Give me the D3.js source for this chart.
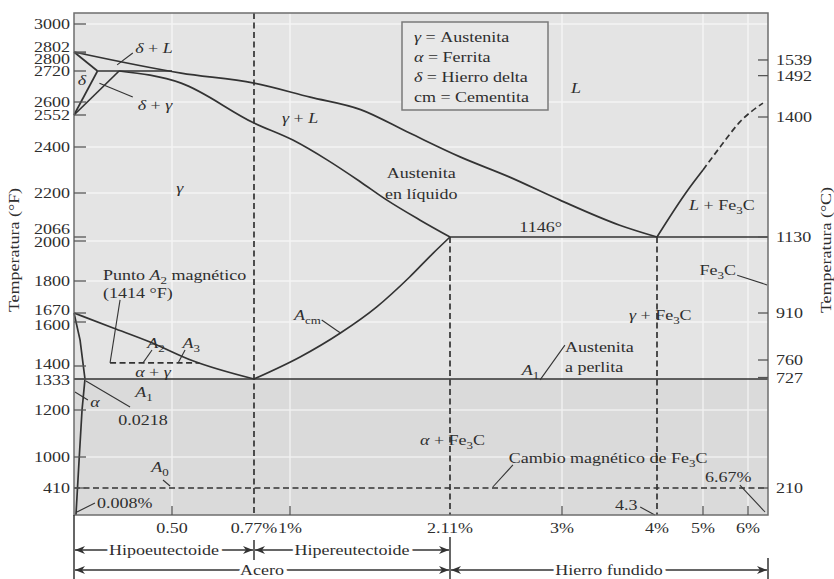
<!DOCTYPE html>
<html>
<head>
<meta charset="utf-8">
<script src="https://cdn.jsdelivr.net/npm/d3@7"></script>
<style>
  body { margin: 0; background: #fff; }
  text { font-family: "Liberation Serif", "Times New Roman", serif; fill: #2e2e2e; }
</style>
</head>
<body>
<svg id="chart" width="834" height="579"></svg>
<script>
// composition axis (% C)
const xTickVals = [0.5, 0.77, 1, 2.11, 3, 4.3, 5, 6];
const xTickLabels = ["0.50", "0.77%", "1%", "2.11%", "3%", "4%", "5%", "6%"];
const xMinorTicks = [0.5, 1, 3, 5, 6];

// temperature ticks
const fTicks = [3000, 2802, 2800, 2720, 2600, 2552, 2400, 2200, 2066, 2000, 1800, 1670, 1600, 1400, 1333, 1200, 1000, 410];
const cTicks = [1539, 1492, 1400, 1130, 910, 760, 727, 210];
const gridF = [3000, 2600, 2400, 2200, 2000, 1800, 1600, 1200, 1000];

// phase boundaries, [% C, °F]
const liquidus = [[0, 2802], [0.53, 2712], [0.77, 2673], [1.14, 2619], [1.49, 2572], [1.83, 2466],
  [2.19, 2357], [2.58, 2270], [2.98, 2179], [3.79, 2102], [4.3, 2066]];
const liquidusRight = [[4.3, 2066], [4.77, 2213], [5, 2300]];
const liquidusDashed = [[5, 2300], [5.38, 2400], [5.82, 2519], [6.5, 2596]];
const solidus = [[0.23, 2720], [0.53, 2673], [0.77, 2514], [1.02, 2433], [1.26, 2343],
  [1.49, 2248], [1.67, 2179], [1.9, 2118], [2.11, 2066]];
const deltaSolidus = [[0, 2802], [0.12, 2720]];
const peritectic = [[0.12, 2720], [0.5, 2720]];
const deltaSolvus = [[0.12, 2720], [0, 2552]];
const gammaDelta = [[0, 2552], [0.23, 2720]];
const a3 = [[0, 1670], [0.2, 1573], [0.388, 1509], [0.566, 1425], [0.77, 1333]];
const alphaLine = [[0, 1670], [0.031, 1518], [0.056, 1333], [0.041, 1200], [0.026, 943], [0.01, 32]];
const acm = [[0.77, 1333], [1.07, 1441], [1.35, 1550], [1.6, 1694], [1.83, 1820], [1.99, 1937], [2.11, 2066]];
const eutectic = [[2.11, 2066], [6.67, 2066]];
const eutectoid = [[0, 1333], [6.67, 1333]];
const a2 = [[0.184, 1414], [0.59, 1414]];
const fe3cMagnetic = [[0, 410], [6.67, 410]];
const dashedVerticals = [[0.77, 3080], [2.11, 2066], [4.3, 2066]];

const legendItems = ["*γ* = Austenita", "*α* = Ferrita", "*δ* = Hierro delta", "cm = Cementita"];

const annotations = [
  {t: "*δ* + *L*", at: [0.408, 2830]},
  {t: "*δ* + *γ*", at: [0.413, 2588]},
  {t: "*δ*", at: [0.041, 2685]},
  {t: "*γ*", at: [0.526, 2222]},
  {t: "*γ* + *L*", at: [1.07, 2538]},
  {t: "Austenita", at: [1.91, 2287]},
  {t: "en líquido", at: [1.91, 2196]},
  {t: "*L*", at: [3.19, 2654]},
  {t: "1146°", at: [2.83, 2096]},
  {t: "*L* + Fe{3}C", at: [5.42, 2164]},
  {t: "Fe{3}C", at: [5.33, 1855]},
  {t: "*γ* + Fe{3}C", at: [4.35, 1654]},
  {t: "Austenita", at: [3.04, 1486], start: true},
  {t: "a perlita", at: [3.04, 1396], start: true},
  {t: "*A*{1}", at: [2.75, 1379]},
  {t: "*A*{cm}", at: [1.12, 1654]},
  {t: "Punto *A*{2} magnético", at: [0.148, 1830], start: true},
  {t: "(1414 °F)", at: [0.148, 1751], start: true},
  {t: "*A*{2}", at: [0.418, 1505]},
  {t: "*A*{3}", at: [0.563, 1505]},
  {t: "*α* + *γ*", at: [0.403, 1369]},
  {t: "*α*", at: [0.107, 1234]},
  {t: "*A*{1}", at: [0.357, 1277]},
  {t: "0.0218", at: [0.352, 1157]},
  {t: "*A*{0}", at: [0.439, 810]},
  {t: "0.008%", at: [0.117, 200], start: true},
  {t: "*α* + Fe{3}C", at: [2.13, 1072]},
  {t: "Cambio magnético de Fe{3}C", at: [3.63, 990]},
  {t: "6.67%", at: [5.56, 620]},
  {t: "4.3", at: [3.88, 172]}
];

const leaders = [
  [[0.30, 2800], [0.22, 2747]],
  [[0.30, 2619], [0.13, 2673]],
  [[0.235, 1723], [0.184, 1414]],
  [[0.398, 1473], [0.352, 1414]],
  [[0.543, 1473], [0.52, 1414]],
  [[0.005, 1277], [0.071, 1243]],
  [[0.061, 1324], [0.286, 1213]],
  [[0.454, 562], [0.49, 448]],
  [[0.015, 74], [0.107, 200]],
  [[1.22, 1615], [1.35, 1550]],
  [[2.826, 1329], [3.04, 1495]],
  [[5.76, 1829], [6.64, 1784]],
  [[2.61, 848], [2.45, 429]],
  [[5.82, 467], [6.57, 74]],
  [[4.07, 144], [4.27, 32]]
];

const spans = [
  {from: 0, to: 0.77, row: 0, label: "Hipoeutectoide"},
  {from: 0.77, to: 2.11, row: 0, label: "Hipereutectoide"},
  {from: 0, to: 2.11, row: 1, label: "Acero"},
  {from: 2.11, to: 6.67, row: 1, label: "Hierro fundido"}
];

// labels that are pushed apart in the original where ticks crowd
const fLabelNudge = {2802: -5, 2800: 6, 2066: -8, 2000: 1, 1670: -3, 1600: 3, 1400: -2, 1333: 1};
const cNudge = {1539: 8, 1492: 4, 1400: 2, 760: -6};

const SX = 1.2, FS = 15, INK = "#333";
const svg = d3.select("#chart");

// the original axes are not uniform, so both scales are piecewise
const x = d3.scaleLinear()
  .domain([0, 0.5, 0.77, 1, 2.11, 3, 4.3, 5, 6, 6.67])
  .range([74, 172, 254, 290, 450, 562, 657, 703, 748, 768]);
const y = d3.scaleLinear()
  .domain([32, 410, 1000, 1200, 1333, 1400, 1600, 1670, 1800, 2000, 2066, 2200, 2400, 2552, 2600, 2720, 2800, 2802, 3000, 3080])
  .range([515, 488, 457, 410, 379, 366, 322, 313, 281, 241, 237, 193, 147, 115, 102, 71, 53, 52, 24, 13]);
const cToF = c => c * 9 / 5 + 32;

const x0 = x(0), x1 = x(6.67), yTop = y(3080), yBot = y(32);

// markup: *italic*, {subscript}
function rich(t, str) {
  const parts = str.split(/(\*[^*]+\*|\{[^}]+\})/).filter(s => s.length);
  let down = false;
  parts.forEach(p => {
    const ts = t.append("tspan");
    if (p[0] === "{") {
      ts.text(p.slice(1, -1)).attr("font-size", FS * 0.72).attr("dy", 4);
      down = true;
      return;
    }
    if (p[0] === "*") ts.text(p.slice(1, -1)).attr("font-style", "italic");
    else ts.text(p);
    if (down) { ts.attr("dy", -4); down = false; }
  });
  return t;
}

function label(g, str, px, py, anchor, rot) {
  const t = g.append("text")
    .attr("font-size", FS)
    .attr("text-anchor", anchor || "middle")
    .attr("transform", `translate(${px},${py})${rot ? " rotate(" + rot + ")" : ""} scale(${SX},1)`);
  return rich(t, str);
}

// plot background
svg.append("rect").attr("x", x0).attr("y", yTop).attr("width", x1 - x0).attr("height", yBot - yTop)
  .attr("fill", "#e4e4e4");
svg.append("rect").attr("x", x0).attr("y", y(1333)).attr("width", x1 - x0).attr("height", yBot - y(1333))
  .attr("fill", "#dadada");

// faint white grid
const grid = svg.append("g").attr("stroke", "#fff").attr("stroke-width", 1.5).attr("opacity", 0.6);
grid.selectAll("line.gx").data(xMinorTicks).enter().append("line")
  .attr("x1", d => x(d)).attr("x2", d => x(d)).attr("y1", yTop).attr("y2", yBot);
grid.selectAll("line.gy").data(gridF).enter().append("line")
  .attr("x1", x0).attr("x2", x1).attr("y1", d => y(d)).attr("y2", d => y(d));

const line = d3.line().x(d => x(d[0])).y(d => y(d[1]));
const curve = d3.line().x(d => x(d[0])).y(d => y(d[1])).curve(d3.curveMonotoneX);

const marks = svg.append("g").attr("fill", "none").attr("stroke", INK).attr("stroke-width", 1.7);

// dashed lines
[fe3cMagnetic, a2].forEach(p => marks.append("path").attr("d", line(p)).attr("stroke-dasharray", "6,3.5"));
marks.selectAll("line.dv").data(dashedVerticals).enter().append("line")
  .attr("x1", d => x(d[0])).attr("x2", d => x(d[0]))
  .attr("y1", d => y(d[1])).attr("y2", yBot)
  .attr("stroke-dasharray", "6,3.5");
marks.append("path").attr("d", curve(liquidusDashed)).attr("stroke-dasharray", "6,3.5");

// solid boundaries
[liquidus, solidus, a3, acm, liquidusRight].forEach(p => marks.append("path").attr("d", curve(p)));
[deltaSolidus, peritectic, deltaSolvus, gammaDelta, eutectic, eutectoid, alphaLine]
  .forEach(p => marks.append("path").attr("d", line(p)));

// leader lines
svg.append("g").attr("stroke", INK).attr("stroke-width", 1.1)
  .selectAll("path").data(leaders).enter().append("path").attr("d", d => line(d));

// frame
svg.append("rect").attr("x", x0).attr("y", yTop).attr("width", x1 - x0).attr("height", yBot - yTop)
  .attr("fill", "none").attr("stroke", "#6e6e6e").attr("stroke-width", 1.5);

// inner ticks: left (°F), right (°C), bottom
const ticks = svg.append("g").attr("stroke", "#555").attr("stroke-width", 1.3);
ticks.selectAll("line.tf").data(fTicks).enter().append("line")
  .attr("x1", x0).attr("x2", x0 + 12).attr("y1", d => y(d)).attr("y2", d => y(d));
ticks.selectAll("line.tc").data(cTicks).enter().append("line")
  .attr("x1", x1 - 10).attr("x2", x1)
  .attr("y1", d => y(cToF(d)) + (cNudge[d] || 0)).attr("y2", d => y(cToF(d)) + (cNudge[d] || 0));
ticks.selectAll("line.tx").data(xMinorTicks).enter().append("line")
  .attr("x1", d => x(d)).attr("x2", d => x(d)).attr("y1", yBot).attr("y2", yBot - 9);

const txt = svg.append("g");
fTicks.forEach(d => label(txt, String(d), x0 - 4, y(d) + (fLabelNudge[d] || 0) + 5, "end"));
cTicks.forEach(d => label(txt, String(d), x1 + 8, y(cToF(d)) + (cNudge[d] || 0) + 5, "start"));
xTickVals.forEach((d, i) => label(txt, xTickLabels[i], x(d), yBot + 18, "middle"));

// axis titles
label(txt, "Temperatura (°F)", 19, 250, "middle", -90);
label(txt, "Temperatura (°C)", 831, 250, "middle", -90);

// region labels and notes
annotations.forEach(a => label(txt, a.t, x(a.at[0]), y(a.at[1]) + 5, a.start ? "start" : "middle"));

// legend box
const lg = svg.append("g");
lg.append("rect").attr("x", 402).attr("y", 22).attr("width", 146).attr("height", 88)
  .attr("fill", "#e8e8e8").attr("stroke", "#7a7a7a").attr("stroke-width", 1.5);
legendItems.forEach((s, i) => label(lg, s, 414, 42 + i * 20, "start"));

// steel / cast iron ranges below the axis
const defs = svg.append("defs");
defs.append("marker").attr("id", "arr").attr("viewBox", "0 0 10 8")
  .attr("refX", 10).attr("refY", 4).attr("markerWidth", 10).attr("markerHeight", 8)
  .attr("markerUnits", "userSpaceOnUse").attr("orient", "auto-start-reverse")
  .append("path").attr("d", "M0,0L10,4L0,8L3,4z").attr("fill", INK);

const rowY = [550, 570];
const ranges = svg.append("g");
spans.forEach(s => {
  ranges.append("line")
    .attr("x1", x(s.from) + 1).attr("x2", x(s.to) - 1)
    .attr("y1", rowY[s.row]).attr("y2", rowY[s.row])
    .attr("stroke", INK).attr("stroke-width", 1.5)
    .attr("marker-start", "url(#arr)").attr("marker-end", "url(#arr)");
  label(ranges, s.label, (x(s.from) + x(s.to)) / 2, rowY[s.row] + 5, "middle")
    .attr("stroke", "#fff").attr("stroke-width", 6).attr("paint-order", "stroke");
});
const seps = [[0, yBot, 579], [0.77, 540, 560], [2.11, 537, 579], [6.67, 558, 579]];
ranges.selectAll("line.sep").data(seps).enter().append("line")
  .attr("x1", d => x(d[0])).attr("x2", d => x(d[0]))
  .attr("y1", d => d[1]).attr("y2", d => d[2])
  .attr("stroke", INK).attr("stroke-width", 1.5);
</script>
</body>
</html>
